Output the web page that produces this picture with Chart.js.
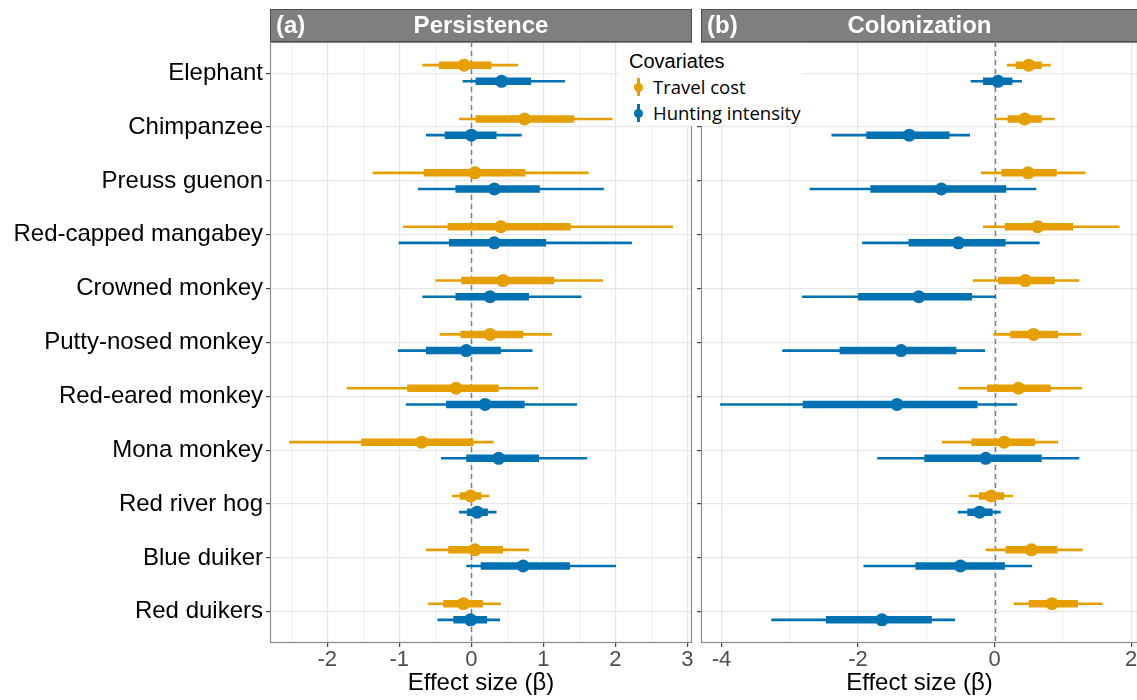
<!DOCTYPE html>
<html><head><meta charset="utf-8">
<script src="https://cdn.jsdelivr.net/npm/chart.js@4.4.0/dist/chart.umd.min.js"></script>
<style>
html,body{margin:0;padding:0;width:1137px;height:700px;overflow:hidden;background:#fff;}
#ca{position:absolute;left:0;top:0;}
#cb{position:absolute;left:692px;top:0;}
#legend{position:absolute;left:618px;top:43px;width:185px;height:83px;background:#fff;}
#legend .lt{position:absolute;left:11px;top:5px;font:20px "Liberation Sans",Arial,sans-serif;color:#000;line-height:26px;white-space:nowrap;}
#legend .li{position:absolute;left:35px;font:18.5px "Open Sans",sans-serif;color:#000;line-height:24px;white-space:nowrap;}
#legend .key{position:absolute;width:3px;height:18px;}
#legend .dot{position:absolute;width:9px;height:9px;border-radius:50%;}
</style></head>
<body>
<canvas id="ca" width="700" height="700"></canvas>
<canvas id="cb" width="460" height="700"></canvas>
<div id="legend">
  <div class="lt">Covariates</div>
  <span class="key" id="k1" style="left:18.5px;top:35px"></span><span class="dot" id="d1" style="left:15.5px;top:39.5px"></span>
  <div class="li" style="top:32px">Travel cost</div>
  <span class="key" id="k2" style="left:18.5px;top:61px"></span><span class="dot" id="d2" style="left:15.5px;top:65.5px"></span>
  <div class="li" style="top:58px">Hunting intensity</div>
</div>
<script>
// ---- categories ----
const species = ["Elephant","Chimpanzee","Preuss guenon","Red-capped mangabey","Crowned monkey","Putty-nosed monkey","Red-eared monkey","Mona monkey","Red river hog","Blue duiker","Red duikers"];
const covariates = ["Travel cost","Hunting intensity"];
const covColors = ["#E69F00","#0072B2"];

// ---- (a) Persistence: Travel cost ----
const persTravelMid  = [-0.10, 0.74, 0.05, 0.41, 0.44, 0.26, -0.21, -0.69, -0.01, 0.05, -0.11];
const persTravelLo50 = [-0.45, 0.06, -0.66, -0.33, -0.14, -0.15, -0.89, -1.53, -0.16, -0.32, -0.39];
const persTravelHi50 = [0.28, 1.43, 0.75, 1.38, 1.15, 0.72, 0.38, 0.03, 0.14, 0.44, 0.16];
const persTravelLo95 = [-0.68, -0.17, -1.37, -0.95, -0.50, -0.44, -1.73, -2.53, -0.27, -0.63, -0.60];
const persTravelHi95 = [0.65, 1.96, 1.63, 2.80, 1.83, 1.12, 0.93, 0.31, 0.25, 0.80, 0.41];
// ---- (a) Persistence: Hunting intensity ----
const persHuntMid  = [0.42, 0.00, 0.32, 0.32, 0.26, -0.07, 0.19, 0.38, 0.08, 0.72, -0.01];
const persHuntLo50 = [0.06, -0.37, -0.22, -0.31, -0.22, -0.63, -0.35, -0.07, -0.06, 0.13, -0.25];
const persHuntHi50 = [0.83, 0.35, 0.95, 1.04, 0.80, 0.41, 0.74, 0.94, 0.23, 1.37, 0.22];
const persHuntLo95 = [-0.12, -0.63, -0.74, -1.01, -0.68, -1.02, -0.91, -0.42, -0.17, -0.07, -0.47];
const persHuntHi95 = [1.30, 0.70, 1.84, 2.23, 1.53, 0.85, 1.47, 1.61, 0.35, 2.01, 0.40];

// ---- (b) Colonization: Travel cost ----
const colTravelMid  = [0.50, 0.44, 0.49, 0.63, 0.45, 0.57, 0.35, 0.14, -0.05, 0.54, 0.84];
const colTravelLo50 = [0.31, 0.19, 0.10, 0.15, 0.05, 0.23, -0.11, -0.34, -0.23, 0.16, 0.50];
const colTravelHi50 = [0.69, 0.69, 0.91, 1.15, 0.88, 0.93, 0.82, 0.59, 0.14, 0.92, 1.22];
const colTravelLo95 = [0.18, 0.00, -0.20, -0.17, -0.32, -0.02, -0.53, -0.77, -0.38, -0.13, 0.28];
const colTravelHi95 = [0.82, 0.88, 1.33, 1.83, 1.24, 1.27, 1.28, 0.93, 0.27, 1.29, 1.58];
// ---- (b) Colonization: Hunting intensity ----
const colHuntMid  = [0.05, -1.25, -0.78, -0.53, -1.11, -1.37, -1.43, -0.13, -0.22, -0.50, -1.65];
const colHuntLo50 = [-0.17, -1.88, -1.82, -1.26, -2.00, -2.27, -2.81, -1.03, -0.40, -1.16, -2.47];
const colHuntHi50 = [0.26, -0.66, 0.17, 0.16, -0.33, -0.56, -0.25, 0.69, -0.03, 0.15, -0.92];
const colHuntLo95 = [-0.35, -2.39, -2.71, -1.94, -2.82, -3.11, -4.02, -1.72, -0.54, -1.92, -3.27];
const colHuntHi95 = [0.40, -0.36, 0.61, 0.66, 0.02, -0.14, 0.33, 1.24, 0.09, 0.55, -0.58];

// ---- tick labels / gridlines ----
const xGridA   = [-2.5,-2,-1.5,-1,-0.5,0,0.5,1,1.5,2,2.5,3];
const xLabelsA = [-2,-1,0,1,2,3];
const xGridB   = [-4,-3,-2,-1,0,1,2];
const xLabelsB = [-4,-2,0,2];

document.getElementById('k1').style.background = covColors[0];
document.getElementById('d1').style.background = covColors[0];
document.getElementById('k2').style.background = covColors[1];
document.getElementById('d2').style.background = covColors[1];

const DODGE = 0.15;
function segs(lo, hi, off){
  const d = [];
  lo.forEach((v,i)=>{ d.push({x:v,y:i+off},{x:hi[i],y:i+off},{x:hi[i],y:null}); });
  return d;
}
function pts(mid, off){ return mid.map((v,i)=>({x:v,y:i+off})); }

function seriesSets(mid, lo50, hi50, lo95, hi95, color, off){
  return [
    {data:segs(lo95,hi95,off), showLine:true, borderColor:color, borderWidth:2.6, pointRadius:0, borderCapStyle:'butt', spanGaps:false},
    {data:segs(lo50,hi50,off), showLine:true, borderColor:color, borderWidth:7.5, pointRadius:0, borderCapStyle:'butt', spanGaps:false},
    {data:pts(mid,off), showLine:false, pointRadius:6.5, pointBackgroundColor:color, pointBorderWidth:0, borderWidth:0}
  ];
}

const panelPlugin = {
  id:'panel',
  beforeDatasetsDraw(chart){
    const {ctx, chartArea:a, scales:{x}} = chart;
    const px = Math.round(x.getPixelForValue(0)) + 0.5;
    ctx.save();
    ctx.strokeStyle = '#7f7f7f'; ctx.lineWidth = 1.5; ctx.setLineDash([5,4]);
    ctx.beginPath(); ctx.moveTo(px, a.top); ctx.lineTo(px, a.bottom); ctx.stroke();
    ctx.restore();
  },
  afterDraw(chart, args, opts){
    const {ctx, chartArea:a} = chart;
    ctx.save();
    ctx.strokeStyle = '#8a8a8a'; ctx.lineWidth = 1.2;
    ctx.strokeRect(a.left+0.5, a.top+0.5, a.width-1, a.height-1);
    // strip
    ctx.fillStyle = '#7f7f7f';
    ctx.fillRect(a.left, 9, a.width, 33);
    ctx.strokeStyle = '#4d4d4d'; ctx.lineWidth = 1;
    ctx.strokeRect(a.left+0.5, 9.5, a.width-1, 32);
    ctx.fillStyle = '#ffffff';
    ctx.font = 'bold 24px "Liberation Sans", Arial, sans-serif';
    ctx.textBaseline = 'middle';
    ctx.textAlign = 'left';
    ctx.fillText(opts.tag, a.left + 6, 26);
    ctx.textAlign = 'center';
    ctx.fillText(opts.title, (a.left + a.right)/2, 26);
    ctx.restore();
  }
};

function makeChart(id, cfg){
  const {xmin, xmax, grid, labels, yWidth, showY, padding, tag, title, sets} = cfg;
  return new Chart(document.getElementById(id), {
    type:'scatter',
    data:{datasets:sets},
    plugins:[panelPlugin],
    options:{
      responsive:false, animation:false, events:[],
      layout:{padding},
      plugins:{legend:{display:false}, tooltip:{enabled:false}, panel:{tag, title}},
      scales:{
        x:{
          type:'linear', min:xmin, max:xmax,
          afterBuildTicks(s){ s.ticks = grid.map(v=>({value:v})); },
          afterFit(s){ s.height = 57; },
          border:{display:false},
          grid:{
            color:(c)=> labels.includes(c.tick && c.tick.value) ? '#e6e6e6' : '#f0f0f0',
            lineWidth:1.2,
            drawTicks:true, tickLength:4,
            tickColor:(c)=> labels.includes(c.tick && c.tick.value) ? '#444' : 'rgba(0,0,0,0)'
          },
          ticks:{
            autoSkip:false, maxRotation:0, padding:0,
            color:'#4d4d4d', font:{family:'"Liberation Sans", Arial, sans-serif', size:22},
            callback:(v)=> labels.includes(v) ? String(v) : ''
          },
          title:{display:true, text:'Effect size (β)', color:'#000', padding:{top:0,bottom:2},
            font:{family:'"Liberation Sans", Arial, sans-serif', size:24}}
        },
        y:{
          type:'linear', min:-0.58, max:10.58, reverse:true,
          afterBuildTicks(s){ s.ticks = species.map((_,i)=>({value:i})); },
          afterFit(s){ s.width = yWidth; },
          border:{display:false},
          grid:{color:'#e8e8e8', lineWidth:1.2, drawTicks:true, tickLength:4, tickColor:'#444'},
          ticks:{
            autoSkip:false, padding:3,
            color:'#000', font:{family:'"Liberation Sans", Arial, sans-serif', size:24},
            callback:(v)=> showY ? species[v] : ''
          }
        }
      }
    }
  });
}

makeChart('ca', {
  xmin:-2.796, xmax:3.065, grid:xGridA, labels:xLabelsA, yWidth:270, showY:true,
  padding:{left:0,right:8,top:42,bottom:0}, tag:'(a)', title:'Persistence',
  sets:[
    ...seriesSets(persTravelMid, persTravelLo50, persTravelHi50, persTravelLo95, persTravelHi95, covColors[0], -DODGE),
    ...seriesSets(persHuntMid, persHuntLo50, persHuntHi50, persHuntLo95, persHuntHi95, covColors[1], DODGE)
  ]
});
makeChart('cb', {
  xmin:-4.30, xmax:2.10, grid:xGridB, labels:xLabelsB, yWidth:9, showY:false,
  padding:{left:0,right:14,top:42,bottom:0}, tag:'(b)', title:'Colonization',
  sets:[
    ...seriesSets(colTravelMid, colTravelLo50, colTravelHi50, colTravelLo95, colTravelHi95, covColors[0], -DODGE),
    ...seriesSets(colHuntMid, colHuntLo50, colHuntHi50, colHuntLo95, colHuntHi95, covColors[1], DODGE)
  ]
});
</script>
</body></html>
